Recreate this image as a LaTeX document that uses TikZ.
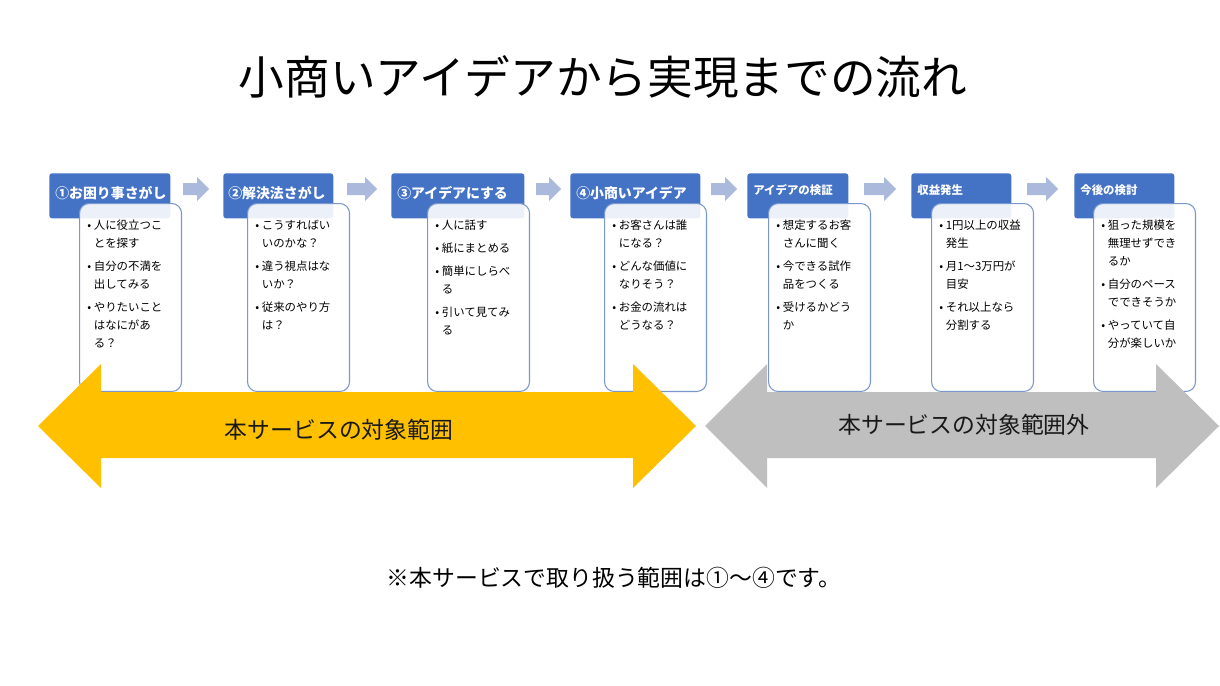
\documentclass[tikz,border=0pt]{standalone}
\usepackage{fontspec}
\setmainfont{Noto Sans CJK JP}
\definecolor{hblue}{RGB}{68,114,196}
\definecolor{nbord}{RGB}{122,152,206}
\definecolor{chevc}{RGB}{170,185,220}
\definecolor{yarrow}{RGB}{255,192,0}
\definecolor{garrow}{RGB}{191,191,191}
\newcommand\bl{\strut\makebox[0.13cm][l]{•}}
\newcommand\cn{\hspace*{0.13cm}}
\newcommand\chevarrow[2]{\fill[chevc] (#1,183) -- (#2-12,183) -- (#2-12,177) -- (#2,189) -- (#2-12,201) -- (#2-12,195) -- (#1,195) -- cycle;}
\begin{document}
\begin{tikzpicture}[x=0.02cm,y=-0.02cm,
  hdr/.style={fill=hblue, rounded corners=1.5pt, inner sep=0pt, minimum height=0.9cm, anchor=north west},
  notebox/.style={draw=nbord, line width=0.6pt, fill=white, fill opacity=0.9, rounded corners=5.5pt, inner sep=0pt, minimum width=2.04cm, minimum height=3.76cm, anchor=north west},
  htext/.style={text=white, font=\fontsize{7.9pt}{9pt}\selectfont\bfseries, inner sep=0pt, anchor=base west},
  hsmall/.style={text=white, font=\fontsize{6.5pt}{8pt}\selectfont\bfseries, inner sep=0pt, anchor=base west},
  ntext/.style={text=black, font=\fontsize{6.5pt}{10.2pt}\selectfont, align=left, inner sep=0pt, anchor=north west},
  biglabel/.style={text=black!90, font=\fontsize{13pt}{15pt}\selectfont, inner sep=0pt}
]
\useasboundingbox (0,0) rectangle (1220,686);
\fill[white] (0,0) rectangle (1220,686);

% title
\node[font=\fontsize{26pt}{30pt}\selectfont, inner sep=0pt] (title) at (603,77) {小商いアイデアから実現までの流れ};

% headers
\node[hdr, minimum width=2.42cm] (h1) at (49,173) {};
\node[hdr, minimum width=2.20cm] (h2) at (223,173) {};
\node[hdr, minimum width=2.66cm] (h3) at (391,173) {};
\node[hdr, minimum width=2.60cm] (h4) at (570,173) {};
\node[hdr, minimum width=2.02cm] (h5) at (747,173) {};
\node[hdr, minimum width=2.00cm] (h6) at (911,173) {};
\node[hdr, minimum width=2.00cm] (h7) at (1074,173) {};

\node[htext] (t1) at (55,198.3) {①お困り事さがし};
\node[htext] (t2) at (228,198.3) {②解決法さがし};
\node[htext] (t3) at (397,198.3) {③アイデアにする};
\node[htext] (t4) at (576,198.3) {④小商いアイデア};
\node[hsmall] (t5) at (753,194.4) {アイデアの検証};
\node[hsmall] (t6) at (917,194.4) {収益発生};
\node[hsmall] (t7) at (1080,194.4) {今後の検討};

% small arrows between headers
\chevarrow{183}{209}
\chevarrow{347}{377}
\chevarrow{536}{561}
\chevarrow{711}{737}
\chevarrow{864}{896}
\chevarrow{1027}{1058}

% note boxes
\node[notebox] (b1) at (79,203) {};
\node[notebox] (b2) at (247,203) {};
\node[notebox] (b3) at (427,203) {};
\node[notebox] (b4) at (604,203) {};
\node[notebox] (b5) at (768,203) {};
\node[notebox] (b6) at (931,203) {};
\node[notebox] (b7) at (1093,203) {};

\node[ntext] (n1) at (87,217) {\bl 人に役立つこ\\\cn とを探す\\[2.8pt]\bl 自分の不満を\\\cn 出してみる\\[2.8pt]\bl やりたいこと\\\cn はなにがあ\\\cn る？};
\node[ntext] (n2) at (255,217) {\bl こうすればい\\\cn いのかな？\\[2.8pt]\bl 違う視点はな\\\cn いか？\\[2.8pt]\bl 従来のやり方\\\cn は？};
\node[ntext] (n3) at (435,217) {\bl 人に話す\\[2.8pt]\bl 紙にまとめる\\[2.8pt]\bl 簡単にしらべ\\\cn る\\[2.8pt]\bl 引いて見てみ\\\cn る};
\node[ntext] (n4) at (612,217) {\bl お客さんは誰\\\cn になる？\\[2.8pt]\bl どんな価値に\\\cn なりそう？\\[2.8pt]\bl お金の流れは\\\cn どうなる？};
\node[ntext] (n5) at (776,217) {\bl 想定するお客\\\cn さんに聞く\\[2.8pt]\bl 今できる試作\\\cn 品をつくる\\[2.8pt]\bl 受けるかどう\\\cn か};
\node[ntext] (n6) at (939,217) {\bl 1円以上の収益\\\cn 発生\\[2.8pt]\bl 月1〜3万円が\\\cn 目安\\[2.8pt]\bl それ以上なら\\\cn 分割する};
\node[ntext] (n7) at (1101,217) {\bl 狙った規模を\\\cn 無理せずでき\\\cn るか\\[2.8pt]\bl 自分のペース\\\cn でできそうか\\[2.8pt]\bl やっていて自\\\cn 分が楽しいか};

% big double arrows
\fill[yarrow] (38,426) -- (101,364) -- (101,392) -- (633,392) -- (633,364) -- (696,426) -- (633,488) -- (633,458) -- (101,458) -- (101,488) -- cycle;
\fill[garrow] (705,426) -- (767,364) -- (767,392) -- (1156,392) -- (1156,364) -- (1219,426) -- (1156,488) -- (1156,458) -- (767,458) -- (767,488) -- cycle;

\node[biglabel] (l1) at (339,430) {本サービスの対象範囲};
\node[biglabel] (l2) at (964,425) {本サービスの対象範囲外};

% footnote
\node[biglabel, text=black] (foot) at (614,578) {※本サービスで取り扱う範囲は①〜④です。};
\end{tikzpicture}
\end{document}
